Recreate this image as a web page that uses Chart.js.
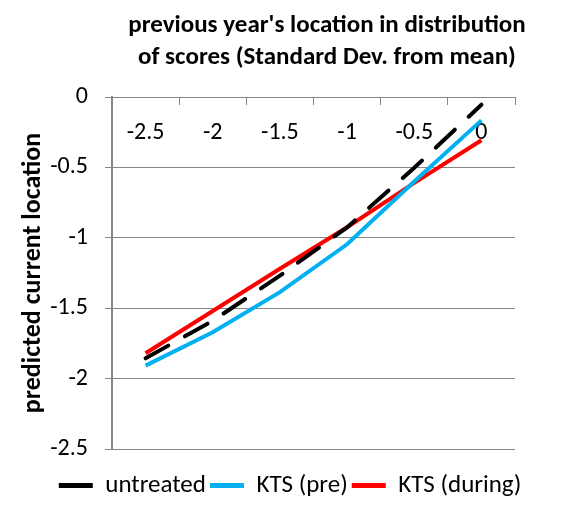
<!DOCTYPE html>
<html>
<head>
<meta charset="utf-8">
<script src="https://cdn.jsdelivr.net/npm/chart.js@4"></script>
<style>
  body { margin: 0; background: #fff; }
  #wrap { width: 579px; height: 517px; }
</style>
</head>
<body>
<div id="wrap"><canvas id="lineChart"></canvas></div>
<script>
// categories (previous year's location, SD from mean)
const xLabels = ['-2.5', '-2', '-1.5', '-1', '-0.5', '0'];

// predicted current location for each group
const untreated = [-1.856, -1.589, -1.269, -0.926, -0.503, -0.055];
const ktsPre = [-1.908, -1.671, -1.386, -1.046, -0.600, -0.166];
const ktsDuring = [-1.820, -1.520, -1.220, -0.925, -0.610, -0.307];

const seriesNames = ['untreated', 'KTS (pre)', 'KTS (during)'];

const FONT = "Carlito, Lato, sans-serif";
const GRID = '#868686';

// move title and legend to where the original had them
const placeBlocks = {
    id: 'placeBlocks',
    afterLayout(chart) {
        const t = chart.titleBlock;
        t.left = 75; t.right = 579;
        const lg = chart.legend;
        lg.left = 0; lg.right = 580;
        lg.top += 20; lg.bottom += 20;
    }
};

const ctx = document.getElementById('lineChart').getContext('2d');
const lineChart = new Chart(ctx, {
    type: 'line',
    data: {
        labels: xLabels,
        datasets: [{
            label: seriesNames[0],
            data: untreated,
            borderColor: '#000000',
            backgroundColor: '#000000',
            borderWidth: 4,
            borderDash: [26, 19],
            borderCapStyle: 'round',
            pointRadius: 0,
            tension: 0
        }, {
            label: seriesNames[1],
            data: ktsPre,
            borderColor: '#00B0F0',
            backgroundColor: '#00B0F0',
            borderWidth: 4,
            pointRadius: 0,
            tension: 0
        }, {
            label: seriesNames[2],
            data: ktsDuring,
            borderColor: '#FF0000',
            backgroundColor: '#FF0000',
            borderWidth: 4,
            pointRadius: 0,
            tension: 0
        }]
    },
    options: {
        responsive: true,
        maintainAspectRatio: false,
        animation: false,
        layout: { padding: { left: 0, right: 64, top: 0, bottom: 29 } },
        scales: {
            x: {
                type: 'category',
                position: 'top',
                offset: true,
                grid: {
                    offset: true,
                    drawOnChartArea: false,
                    drawTicks: true,
                    tickLength: -8,
                    color: GRID
                },
                border: { display: true, color: GRID, width: 1 },
                ticks: {
                    mirror: true,   // stops the label clip, labels sit under the 0 line
                    padding: 22,
                    maxRotation: 0,
                    autoSkip: false,
                    color: '#000',
                    font: { family: FONT, size: 24 }
                },
                afterFit: s => { s.height = 0; }
            },
            y: {
                min: -2.5,
                max: 0,
                ticks: {
                    stepSize: 0.5,
                    padding: 17,
                    color: '#000',
                    font: { family: FONT, size: 24 },
                    callback: v => String(v)
                },
                grid: { color: GRID, tickLength: 7 },
                border: { color: GRID, width: 2 },
                title: {
                    display: true,
                    text: 'predicted current location',
                    color: '#000',
                    font: { family: FONT, size: 26, weight: 'bold' },
                    padding: { top: 18, bottom: 0 }
                },
                afterFit: s => { s.width = 112; }
            }
        },
        plugins: {
            title: {
                display: true,
                text: ["previous year's location in distribution", 'of scores (Standard Dev. from mean)'],
                color: '#000',
                font: { family: FONT, size: 25, weight: 'bold', lineHeight: 1.26 },
                padding: { top: 10, bottom: 24 }
            },
            legend: {
                position: 'bottom',
                labels: {
                    boxWidth: 34,
                    boxHeight: 5,
                    padding: 4,
                    color: '#000',
                    font: { family: FONT, size: 25 },
                    generateLabels: chart => Chart.defaults.plugins.legend.labels.generateLabels(chart)
                        .map(l => Object.assign(l, { lineWidth: 0, lineDash: [], fillStyle: l.strokeStyle }))
                }
            },
            tooltip: { enabled: false }
        }
    },
    plugins: [placeBlocks]
});
</script>
</body>
</html>
